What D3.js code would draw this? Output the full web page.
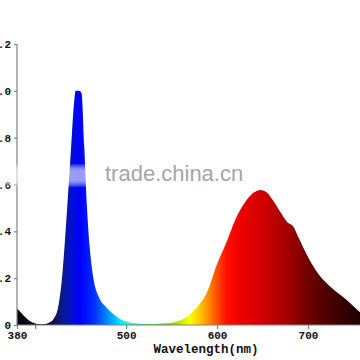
<!DOCTYPE html>
<html lang="en">
<head>
<meta charset="UTF-8">
<title>spectrum</title>
<script src="https://cdn.jsdelivr.net/npm/d3@7"></script>
<style>
body { margin: 0; background: #fff; }
.tick text, .lbl { font: bold 11px "Liberation Mono", monospace; fill: #111; }
.axis path, .axis line { stroke: #808080; stroke-width: 1.2; }
</style>
</head>
<body>
<svg width="360" height="360"></svg>
<script>
// spectrum (nm, relative intensity)
var wavelength = [380, 385, 390, 395, 400, 405, 410, 415, 420, 425, 429, 435, 439.5, 443, 444.5, 448, 451, 454, 457, 460, 464, 470, 478, 485, 495, 500, 510, 520, 530, 540, 550, 560, 570, 580, 590, 600, 610, 620, 630, 640, 648, 655, 662, 670, 677, 684, 690, 700, 710, 720, 730, 740, 750, 760];
var intensity  = [0.07, 0.05, 0.03, 0.015, 0.006, 0.003, 0.004, 0.01, 0.025, 0.07, 0.18, 0.49, 0.76, 0.96, 1.0, 1.0, 0.99, 0.76, 0.5, 0.33, 0.2, 0.12, 0.077, 0.05, 0.022, 0.015, 0.007, 0.004, 0.004, 0.006, 0.01, 0.02, 0.045, 0.085, 0.15, 0.26, 0.35, 0.45, 0.52, 0.565, 0.577, 0.565, 0.53, 0.48, 0.44, 0.42, 0.37, 0.29, 0.225, 0.18, 0.145, 0.115, 0.08, 0.045];

var yTicks = [0, 0.2, 0.4, 0.6, 0.8, 1.0, 1.2];
var xTicks = [380, 400, 500, 600, 700];
var xLabels = ["380", "", "500", "600", "700"];

// colour of the fill at each wavelength
var gradNm = [380, 400, 420, 430, 440, 450, 465, 475, 485, 495, 505, 520, 540, 555, 570, 585, 597, 610, 625, 650, 680, 700, 730, 760];
var gradColor = ["#000000", "#0a0a22", "#0d1050", "#0a1a8a", "#0010d0", "#0000ff", "#0030ff", "#0070ff", "#00b0ff", "#00f0ff", "#20ffc0", "#40e060", "#60d020", "#a0e000", "#ffff00", "#ffb000", "#ff6000", "#ff1000", "#f00000", "#d00000", "#a00000", "#700000", "#400000", "#1a0000"];

var svg = d3.select("svg");
var data = wavelength.map(function(d, i) { return { nm: d, v: intensity[i] }; });

var x = d3.scaleLinear().domain([380, 760]).range([17, 17 + 380 * 291 / 320]);
var y = d3.scaleLinear().domain([0, 1.2]).range([325, 44]);

var defs = svg.append("defs");
var grad = defs.append("linearGradient").attr("id", "spec")
    .attr("gradientUnits", "userSpaceOnUse")
    .attr("x1", x(380)).attr("x2", x(760)).attr("y1", 0).attr("y2", 0);
grad.selectAll("stop").data(gradNm).enter().append("stop")
    .attr("offset", function(d) { return (d - 380) / 380; })
    .attr("stop-color", function(d, i) { return gradColor[i]; });
defs.append("filter").attr("id", "blur").append("feGaussianBlur").attr("stdDeviation", 2.5);

var area = d3.area()
    .x(function(d) { return x(d.nm); })
    .y0(y(0))
    .y1(function(d) { return y(d.v); })
    .curve(d3.curveMonotoneX);

svg.append("path").datum(data).attr("d", area).attr("fill", "url(#spec)");

var ya = svg.append("g").attr("class", "axis").attr("transform", "translate(" + x(380) + ",0)")
    .call(d3.axisLeft(y).tickValues(yTicks).tickSize(3).tickPadding(3)
        .tickFormat(function(d) { return d === 0 ? "0" : d3.format(".1f")(d); }));
ya.select(".domain").attr("d", "M0," + y(1.2) + "V" + y(0));

var xa = svg.append("g").attr("class", "axis").attr("transform", "translate(0," + y(0) + ")")
    .call(d3.axisBottom(x).tickValues(xTicks).tickSize(4).tickPadding(2)
        .tickFormat(function(d, i) { return xLabels[i]; }));
xa.select(".domain").attr("d", "M" + x(380) + ",0H360");

svg.append("text").attr("class", "lbl")
    .attr("x", 206).attr("y", 353).attr("text-anchor", "middle")
    .style("font-size", "12.5px")
    .text("Wavelength(nm)");

// watermark band
svg.append("rect").attr("x", -5).attr("y", 166).attr("width", 105).attr("height", 19)
    .attr("fill", "#fff").attr("opacity", 0.6).attr("filter", "url(#blur)");
svg.append("text").attr("x", 105).attr("y", 181)
    .style("font", "22px 'Liberation Sans', Arial, sans-serif")
    .attr("fill", "#a6a6a6")
    .text("trade.china.cn");
</script>
</body>
</html>
